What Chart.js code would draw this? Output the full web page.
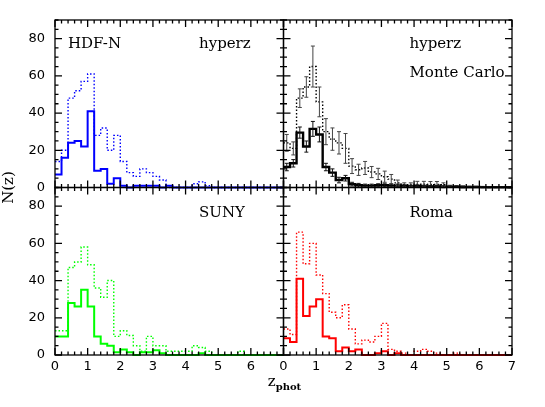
<!DOCTYPE html>
<html>
<head>
<meta charset="utf-8">
<script src="https://cdn.jsdelivr.net/npm/chart.js@4.4.1/dist/chart.umd.min.js"></script>
<style>
  html, body { margin: 0; padding: 0; background: #fff; }
</style>
</head>
<body>
<canvas id="nzChart" width="545" height="407"></canvas>
<script>
// bins of width 0.2 in z_phot, value = start of the bin
const binStart = [0, 0.2, 0.4, 0.6, 0.8, 1.0, 1.2, 1.4, 1.6, 1.8, 2.0, 2.2, 2.4, 2.6, 2.8, 3.0, 3.2, 3.4,
  3.6, 3.8, 4.0, 4.2, 4.4, 4.6, 4.8, 5.0, 5.2, 5.4, 5.6, 5.8, 6.0, 6.2, 6.4, 6.6, 6.8];
const zMax = 7;
const xTicks = [0, 1, 2, 3, 4, 5, 6, 7];
const yTicks = [0, 20, 40, 60, 80];

// HDF-N, hyperz
const hdfSolid = [7, 16, 24, 25, 22, 41, 9, 10, 2, 5, 1, 0, 1, 1, 1, 1, 0, 1,
  0, 0, 0, 0, 0, 0, 0, 0, 0, 0, 0, 0, 0, 0, 0, 0, 0];
const hdfDotted = [14, 20, 48, 52, 57, 61, 28, 32, 20, 28, 14, 8, 6, 10, 8, 6, 4, 0,
  0, 0, 0, 2, 3, 1, 0, 0, 0, 0, 0, 0, 0, 0, 0, 0, 0];

// hyperz, Monte Carlo (with error bars)
const mcSolid = [11, 13, 29.5, 22, 31.5, 28.5, 11, 8, 4, 5, 1.8, 1.2, 1, 1, 1.2, 1.2, 1, 1,
  0.8, 0.6, 0.8, 0.6, 0.5, 0.5, 0.4, 0.4, 0.4, 0.3, 0.3, 0.3, 0.2, 0.2, 0.2, 0.2, 0.2];
const mcSolidErr = [2, 2, 3, 3, 4, 4, 2, 2, 1.5, 1.5, 1, 1, 0.8, 0.8, 0.8, 0.8, 0.8, 0.8,
  0.6, 0.6, 0.6, 0.6, 0.5, 0.5, 0.5, 0.4, 0.4, 0.4, 0.3, 0.3, 0.3, 0.3, 0.3, 0.3, 0.3];
const mcDotted = [24, 21, 48, 54, 65, 46, 30, 26, 24, 21, 11.5, 9.5, 10.5, 8.3, 7.3, 5.8, 4.5, 2.5,
  1.5, 1.5, 1.8, 1.8, 1.7, 1.7, 1.5, 0.7, 0.5, 0.4, 0.3, 0.3, 0.3, 0.2, 0.2, 0.2, 0.2];
const mcDottedErr = [4.5, 3.5, 5, 5.5, 11, 8, 7, 6, 6, 8, 4, 3, 3.5, 3, 3, 3, 2.5, 1.5,
  1, 1, 1.5, 1.5, 1.5, 1.5, 1, 0.5, 0.5, 0.4, 0.3, 0.3, 0.3, 0.3, 0.3, 0.3, 0.3];

// SUNY
const sunySolid = [10, 10, 28, 26, 35, 26, 10, 6, 5, 1.5, 3, 1.5, 0, 1.5, 1.5, 2.5, 1, 0,
  0, 0, 0, 0, 1, 0, 0, 0, 0, 0, 0, 0, 0, 0, 0, 0, 0];
const sunyDotted = [13, 13, 47, 50, 58, 48.5, 36, 31, 40, 10, 13, 10.5, 5, 2, 10, 5, 5, 2,
  2, 2, 2, 5, 4, 2, 0, 0, 0, 0, 2, 0, 0, 0, 0, 0, 0];

// Roma
const romaSolid = [9, 7, 41, 21, 26, 30, 10, 9, 2, 4, 2, 3, 0, 0, 1, 2, 0, 1,
  0, 0, 0, 0, 0, 0, 0, 0, 0, 0, 0, 0, 0, 0, 0, 0, 0];
const romaDotted = [14, 11, 66, 49, 60, 43, 33, 23, 20, 27, 14, 6, 8, 7, 10, 17, 3, 2,
  1, 0, 2, 3, 2, 1, 0, 0, 1, 0, 0, 0, 0, 0, 0, 0, 0];

// step histogram points: one per bin start plus the closing edge
function histo(values) {
  const pts = values.map((v, i) => ({ x: binStart[i], y: v }));
  pts.push({ x: zMax, y: values[values.length - 1] });
  return pts;
}

function solid(values, color, xAxis, yAxis, width) {
  return {
    data: histo(values), xAxisID: xAxis, yAxisID: yAxis,
    borderColor: color, borderWidth: width || 2, stepped: true,
    pointRadius: 0, fill: false, clip: 4
  };
}
function dotted(values, color, xAxis, yAxis) {
  return {
    data: histo(values), xAxisID: xAxis, yAxisID: yAxis,
    borderColor: color, borderWidth: 1.4, borderDash: [1.5, 2], stepped: true,
    pointRadius: 0, fill: false, clip: 4
  };
}

const panels = [["x1", "y1"], ["x2", "y1"], ["x1", "y2"], ["x2", "y2"]];

// frame with inward major/minor ticks on every side of every panel
const frameTicks = {
  id: "frameTicks",
  afterDraw(chart) {
    const ctx = chart.ctx;
    ctx.save();
    ctx.strokeStyle = "#000";
    ctx.lineWidth = 1.3;
    panels.forEach(([xi, yi]) => {
      const xs = chart.scales[xi], ys = chart.scales[yi];
      const l = xs.left, r = xs.right, t = ys.top, b = ys.bottom;
      ctx.strokeRect(l, t, r - l, b - t);
      ctx.beginPath();
      for (let k = 0; k <= 35; k++) {
        const px = xs.getPixelForValue(k * 0.2);
        const len = k % 5 === 0 ? 7 : 3.5;
        ctx.moveTo(px, b); ctx.lineTo(px, b - len);
        ctx.moveTo(px, t); ctx.lineTo(px, t + len);
      }
      for (let k = 0; k <= 18; k++) {
        const py = ys.getPixelForValue(k * 5);
        const len = k % 4 === 0 ? 7 : 3.5;
        ctx.moveTo(l, py); ctx.lineTo(l + len, py);
        ctx.moveTo(r, py); ctx.lineTo(r - len, py);
      }
      ctx.stroke();
    });
    ctx.restore();
  }
};

// error bars for the Monte Carlo panel
const errorBars = {
  id: "errorBars",
  afterDatasetsDraw(chart) {
    const ctx = chart.ctx, xs = chart.scales.x2, ys = chart.scales.y1;
    ctx.save();
    ctx.lineWidth = 1;
    [[mcDotted, mcDottedErr, "#444"], [mcSolid, mcSolidErr, "#111"]].forEach(([vals, errs, col]) => {
      ctx.strokeStyle = col;
      ctx.beginPath();
      vals.forEach((v, i) => {
        const cx = xs.getPixelForValue(binStart[i] + 0.1);
        const y0 = ys.getPixelForValue(v - errs[i]);
        const y1 = ys.getPixelForValue(v + errs[i]);
        ctx.moveTo(cx, y0); ctx.lineTo(cx, y1);
        ctx.moveTo(cx - 2, y0); ctx.lineTo(cx + 2, y0);
        ctx.moveTo(cx - 2, y1); ctx.lineTo(cx + 2, y1);
      });
      ctx.stroke();
    });
    ctx.restore();
  }
};

// panel captions and axis titles
const captions = {
  id: "captions",
  afterDraw(chart) {
    const ctx = chart.ctx, s = chart.scales;
    ctx.save();
    ctx.fillStyle = "#000";
    ctx.textBaseline = "alphabetic";
    ctx.font = "15px 'DejaVu Serif'";
    ctx.textAlign = "left";
    ctx.fillText("HDF-N", s.x1.left + 13, s.y1.top + 28);
    ctx.fillText("hyperz", s.x1.left + 144, s.y1.top + 28);
    ctx.fillText("hyperz", s.x2.left + 126, s.y1.top + 28);
    ctx.fillText("Monte Carlo", s.x2.left + 126, s.y1.top + 57);
    ctx.fillText("SUNY", s.x1.left + 144, s.y2.top + 29);
    ctx.fillText("Roma", s.x2.left + 126, s.y2.top + 29);

    // y title
    ctx.save();
    ctx.translate(13, (s.y1.top + s.y2.bottom) / 2);
    ctx.rotate(-Math.PI / 2);
    ctx.textAlign = "center";
    ctx.fillText("N(z)", 0, 0);
    ctx.restore();

    // x title z_phot
    ctx.font = "15px 'DejaVu Serif'";
    const zw = ctx.measureText("z").width;
    ctx.font = "bold 10px 'DejaVu Serif'";
    const pw = ctx.measureText("phot").width;
    const x0 = s.x2.left - (zw + pw) / 2 + 1;
    ctx.font = "15px 'DejaVu Serif'";
    ctx.fillText("z", x0, 386);
    ctx.font = "bold 10px 'DejaVu Serif'";
    ctx.fillText("phot", x0 + zw, 390);
    ctx.restore();
  }
};

function xAxis(showLast) {
  return {
    type: "linear", position: "bottom", stack: "x", stackWeight: 1,
    min: 0, max: zMax,
    afterBuildTicks: (axis) => { axis.ticks = xTicks.map(v => ({ value: v })); },
    ticks: {
      padding: 4, color: "#000", font: { family: "DejaVu Sans", size: 13 },
      maxRotation: 0, autoSkip: false,
      callback: (v) => (showLast || v !== zMax ? String(v) : "")
    },
    grid: { display: false, drawTicks: false },
    border: { display: false },
    afterFit: (axis) => { axis.height = 52; }
  };
}
function yAxis() {
  return {
    type: "linear", position: "left", stack: "y", stackWeight: 1,
    min: 0, max: 90,
    afterBuildTicks: (axis) => { axis.ticks = yTicks.map(v => ({ value: v })); },
    ticks: { padding: 10, color: "#000", font: { family: "DejaVu Sans", size: 13 } },
    grid: { display: false, drawTicks: false },
    border: { display: false },
    afterFit: (axis) => { axis.width = 55; }
  };
}

new Chart(document.getElementById("nzChart"), {
  type: "line",
  data: {
    datasets: [
      dotted(hdfDotted, "#0000ff", "x1", "y1"),
      solid(hdfSolid, "#0000ff", "x1", "y1"),
      dotted(mcDotted, "#000", "x2", "y1"),
      solid(mcSolid, "#000", "x2", "y1", 2.4),
      dotted(sunyDotted, "#00ff00", "x1", "y2"),
      solid(sunySolid, "#00ff00", "x1", "y2"),
      dotted(romaDotted, "#ff0000", "x2", "y2"),
      solid(romaSolid, "#ff0000", "x2", "y2")
    ]
  },
  options: {
    responsive: false,
    animation: false,
    layout: { padding: { top: 20, right: 33, left: 0, bottom: 0 } },
    plugins: { legend: { display: false }, tooltip: { enabled: false } },
    scales: {
      // left-stacked axes are placed last-defined first, so the bottom row comes first here
      y2: yAxis(),
      y1: yAxis(),
      x1: xAxis(false),
      x2: xAxis(true)
    }
  },
  plugins: [errorBars, frameTicks, captions]
});
</script>
</body>
</html>
